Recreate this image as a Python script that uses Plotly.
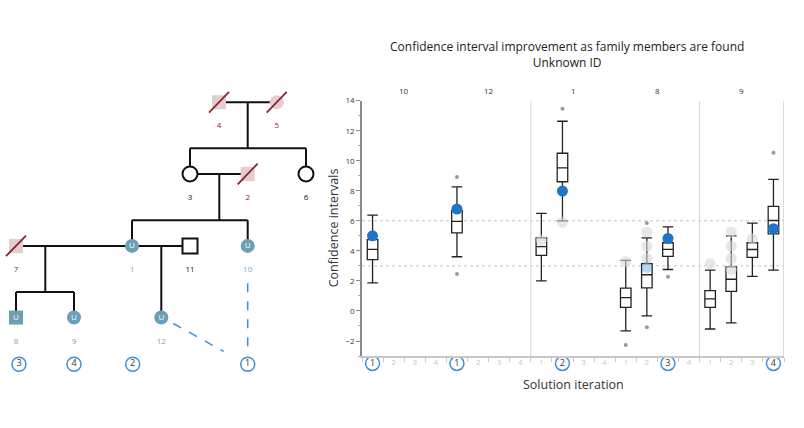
import plotly.graph_objects as go

# ---------------- Box plot data ----------------
title_lines = ["Confidence interval improvement as family members are found", "Unknown ID"]
group_labels = ["10", "12", "1", "8", "9"]
iter_labels = ["1", "2", "3", "4"]

box_pos = [0, 4, 8, 9, 12, 13, 14, 16, 17, 18, 19]
box_low = [1.87, 3.61, 2.0, 6.0, -1.33, -0.33, 2.76, -1.2, -0.8, 2.3, 2.72]
box_q1 = [3.42, 5.2, 3.7, 8.6, 0.24, 1.54, 3.63, 0.24, 1.3, 3.57, 5.13]
box_med = [4.1, 5.96, 4.28, 9.52, 0.89, 2.41, 4.1, 0.8, 2.11, 4.09, 6.02]
box_q3 = [4.75, 6.67, 4.86, 10.5, 1.52, 3.15, 4.54, 1.35, 2.93, 4.54, 6.96]
box_high = [6.38, 8.26, 6.5, 12.63, 3.37, 4.87, 5.6, 2.72, 5.0, 5.85, 8.76]

outlier_pos = [4, 4, 9, 12, 13, 13, 14, 19]
outlier_val = [8.91, 2.46, 13.46, -2.26, 5.85, -1.09, 2.28, 10.54]

found_pos = [0, 4, 9, 14, 19]
found_val = [5.0, 6.78, 7.98, 4.83, 5.48]
found_label = ["1", "1", "2", "3", "4"]

prev_pos = [8, 9, 12, 13, 13, 13, 16, 17, 17, 17, 17, 18]
prev_val = [4.7, 5.9, 3.3, 5.26, 4.3, 3.5, 3.15, 5.26, 4.3, 3.5, 2.75, 4.8]
faint_pos = [13]
faint_val = [2.9]

threshold_vals = [6, 3]
y_tick_vals = [-2, 0, 2, 4, 6, 8, 10, 12, 14]

# ---------------- Pedigree data ----------------
ped_id = ["1", "2", "3", "4", "5", "6", "7", "8", "9", "10", "11", "12"]
ped_sex = ["F", "M", "F", "M", "F", "F", "M", "M", "F", "F", "M", "F"]
ped_status = ["unknown", "deceased", "living", "deceased", "deceased", "living",
              "deceased", "unknown", "unknown", "unknown", "living", "unknown"]
couples = [("4", "5"), ("3", "2"), ("7", "1"), ("1", "11")]
children = [["3", "6"], ["1", "10"], ["8", "9"], ["12"]]
found_people = ["10", "12", "1", "8", "9"]
found_order = ["1", "1", "2", "3", "4"]

# pedigree drawing layout (pixel positions on the left panel)
ped_xy = {"1": (132, 243.3), "2": (247.7, 170.3), "3": (190, 170.3), "4": (219, 97.7),
          "5": (276.7, 97.7), "6": (306, 170.3), "7": (16, 243.3), "8": (16, 316),
          "9": (74, 316), "10": (247.7, 243.3), "11": (190, 243.3), "12": (161.3, 316)}
descent_x = [247.7, 219.3, 45.3, 161.3]
order_circle_x = {"1": 247.7, "2": 132.7, "3": 19, "4": 74}
order_circle_y = 363.3

TEAL = "#6a9fb5"
TEAL_TXT = "#72a8bf"
PINK = "#e4cdcd"
DRED = "#8b2332"
BLUE = "#1f74c8"
CBLUE = "#3d8fd8"
FONT = "Open Sans"

fig = go.Figure()

# ---------------- Pedigree ----------------
PX, PY = "x2", "y2"
line_x, line_y = [], []
for (a, b), kids, dx in zip(couples, children, descent_x):
    ax_, ay_ = ped_xy[a]
    bx_, by_ = ped_xy[b]
    line_x += [ax_, bx_, None]
    line_y += [ay_, by_, None]
    ky = ped_xy[kids[0]][1]
    if len(kids) == 1:
        line_x += [dx, dx, None]
        line_y += [ay_, ky, None]
    else:
        sy = ky - 26
        line_x += [dx, dx, None]
        line_y += [ay_, sy, None]
        xs = [ped_xy[k][0] for k in kids]
        line_x += [min(xs), max(xs), None]
        line_y += [sy, sy, None]
        for k in kids:
            line_x += [ped_xy[k][0], ped_xy[k][0], None]
            line_y += [sy, ped_xy[k][1], None]
fig.add_trace(go.Scatter(x=line_x, y=line_y, xaxis=PX, yaxis=PY, mode="lines",
                         line=dict(color="#111", width=2), hoverinfo="skip"))

# dashed links from found people to the order circle
dash_x, dash_y = [], []
for p, o in zip(found_people, found_order):
    if o == "1":
        px_, py_ = ped_xy[p]
        cx = order_circle_x[o]
        if abs(px_ - cx) < 1:
            dash_x += [px_, cx, None]
            dash_y += [py_ + 38, order_circle_y - 15, None]
        else:
            dash_x += [px_ + 12, cx - 24, None]
            dash_y += [py_ + 6, order_circle_y - 13, None]
fig.add_trace(go.Scatter(x=dash_x, y=dash_y, xaxis=PX, yaxis=PY, mode="lines",
                         line=dict(color=CBLUE, width=1.5, dash="dash"), hoverinfo="skip"))

# symbols
for pid, sex, st in zip(ped_id, ped_sex, ped_status):
    x0, y0 = ped_xy[pid]
    sym = "square" if sex == "M" else "circle"
    if st == "unknown":
        mk = dict(symbol=sym, size=14, color=TEAL, line=dict(width=0))
    elif st == "deceased":
        mk = dict(symbol=sym, size=14, color=PINK, line=dict(width=0))
    else:
        mk = dict(symbol=sym, size=15, color="white", line=dict(color="#111", width=2))
    fig.add_trace(go.Scatter(x=[x0], y=[y0], xaxis=PX, yaxis=PY, mode="markers",
                             marker=mk, hoverinfo="skip"))
    if st == "unknown":
        fig.add_trace(go.Scatter(x=[x0], y=[y0], xaxis=PX, yaxis=PY, mode="text",
                                 text=["U"], textfont=dict(color="white", size=8, family=FONT),
                                 hoverinfo="skip"))
    if st == "deceased":
        fig.add_trace(go.Scatter(x=[x0 - 10, x0 + 10], y=[y0 + 10.5, y0 - 10.5], xaxis=PX, yaxis=PY,
                                 mode="lines", line=dict(color=DRED, width=1.8), hoverinfo="skip"))
    lab_col = TEAL_TXT if st == "unknown" else (DRED if st == "deceased" else "#111")
    fig.add_trace(go.Scatter(x=[x0], y=[y0 + 24.5], xaxis=PX, yaxis=PY, mode="text",
                             text=[pid], textfont=dict(color=lab_col, size=8, family=FONT),
                             hoverinfo="skip"))

# order circles under the pedigree
oc = sorted(order_circle_x.keys())
fig.add_trace(go.Scatter(x=[order_circle_x[k] for k in oc], y=[order_circle_y] * len(oc),
                         xaxis=PX, yaxis=PY, mode="markers+text", text=oc,
                         textposition="middle center",
                         textfont=dict(color="#333", size=9, family=FONT),
                         marker=dict(symbol="circle", size=14, color="white",
                                     line=dict(color=CBLUE, width=1.5)),
                         hoverinfo="skip"))

# ---------------- Box plot ----------------
fig.add_trace(go.Box(x=box_pos, q1=box_q1, median=box_med, q3=box_q3,
                     lowerfence=box_low, upperfence=box_high, boxpoints=False,
                     width=0.5, whiskerwidth=1, fillcolor="white",
                     line=dict(color="#222", width=1.3), hoverinfo="skip"))
fig.add_trace(go.Scatter(x=outlier_pos, y=outlier_val, mode="markers",
                         marker=dict(color="#9a9a9a", size=4), hoverinfo="skip"))
fig.add_trace(go.Scatter(x=prev_pos, y=prev_val, mode="markers",
                         marker=dict(color="rgba(215,215,215,0.6)", size=11), hoverinfo="skip"))
fig.add_trace(go.Scatter(x=faint_pos, y=faint_val, mode="markers",
                         marker=dict(color="rgba(31,116,200,0.3)", size=11), hoverinfo="skip"))
fig.add_trace(go.Scatter(x=found_pos, y=found_val, mode="markers",
                         marker=dict(color=BLUE, size=11), hoverinfo="skip"))

# iteration labels under the axis (drawn on a strip axis y3 sharing x)
n_pos = len(group_labels) * len(iter_labels)
all_pos = list(range(n_pos))
lab_y = 362.5
plain_pos = [p for p in all_pos if p not in found_pos]
fig.add_trace(go.Scatter(x=plain_pos, y=[lab_y] * len(plain_pos), mode="text", yaxis="y3",
                         text=[iter_labels[p % 4] for p in plain_pos],
                         textfont=dict(color="#c8c8c8", size=8, family=FONT), hoverinfo="skip"))
fig.add_trace(go.Scatter(x=found_pos, y=[lab_y] * len(found_pos), mode="markers+text",
                         yaxis="y3", text=found_label, textposition="middle center",
                         textfont=dict(color="#333", size=9, family=FONT),
                         marker=dict(symbol="circle", size=14, color="white",
                                     line=dict(color=CBLUE, width=1.5)),
                         hoverinfo="skip"))

shapes = []
for v in threshold_vals:
    shapes.append(dict(type="line", xref="x", yref="y", x0=-0.5, x1=n_pos - 0.5, y0=v, y1=v,
                       line=dict(color="#c4c4c4", width=1, dash="dot"), layer="below"))
for sep in [7.5, 15.5]:
    shapes.append(dict(type="line", xref="x", yref="y", x0=sep, x1=sep, y0=-3, y1=14,
                       line=dict(color="#d6d6d6", width=1), layer="below"))
shapes.append(dict(type="line", xref="x", yref="y", x0=n_pos - 0.5, x1=n_pos - 0.5, y0=-3, y1=14,
                   line=dict(color="#d0d0d0", width=1.5), layer="below"))

annotations = []
for g, gl in enumerate(group_labels):
    annotations.append(dict(x=g * 4 + 1.5, xref="x", y=1 - 86 / 428, yref="paper", text=gl,
                            xanchor="center", yanchor="middle",
                            showarrow=False, font=dict(size=8, color="#333", family=FONT)))
annotations.append(dict(x=0.7052, y=1 - 49 / 428, xref="paper", yref="paper",
                        text="<br>".join(title_lines), showarrow=False,
                        xanchor="center", yanchor="middle",
                        font=dict(size=12, color="#222", family=FONT)))
annotations.append(dict(x=333 / 804, y=1 - 225.5 / 428, xref="paper", yref="paper",
                        text="Confidence intervals", textangle=-90, showarrow=False,
                        xanchor="center", yanchor="middle",
                        font=dict(size=12.5, color="#333", family=FONT)))
annotations.append(dict(x=573 / 804, y=1 - 384 / 428, xref="paper", yref="paper",
                        text="Solution iteration", showarrow=False,
                        xanchor="center", yanchor="middle",
                        font=dict(size=12.5, color="#333", family=FONT)))

minor_x = [p + 0.5 for p in range(-1, n_pos)]
fig.update_layout(
    width=804, height=428, margin=dict(l=0, r=0, t=0, b=0),
    paper_bgcolor="white", plot_bgcolor="rgba(0,0,0,0)", showlegend=False,
    font=dict(family=FONT),
    boxmode="overlay",
    shapes=shapes, annotations=annotations,
    xaxis=dict(domain=[362 / 804, 784 / 804], range=[-0.5, n_pos - 0.5], showgrid=False,
               zeroline=False, showline=True, linecolor="#c8c8c8", linewidth=2,
               ticks="outside", tickvals=minor_x, ticklen=4, tickcolor="#c8c8c8",
               showticklabels=False, fixedrange=True, anchor="y"),
    yaxis=dict(domain=[1 - 355 / 428, 1 - 96 / 428], range=[-3, 14], showgrid=False,
               zeroline=False, showline=True, linecolor="#8a8a8a", linewidth=1.5,
               tickvals=y_tick_vals, ticks="outside", ticklen=4, tickcolor="#8a8a8a",
               tickfont=dict(size=8, color="#333"),
               minor=dict(tickvals=[-3, -1, 1, 3, 5, 7, 9, 11, 13], ticks="outside",
                          ticklen=2, tickcolor="#aaa"),
               fixedrange=True),
    yaxis3=dict(domain=[0, 1 - 357 / 428], range=[428, 357], anchor="x", visible=False,
                fixedrange=True),
    xaxis2=dict(domain=[0, 0.42], range=[0, 0.42 * 804], visible=False, fixedrange=True),
    yaxis2=dict(domain=[0, 1], range=[428, 0], visible=False, fixedrange=True),
)

fig.write_html("out.html", config={"displayModeBar": False},
               post_script="document.body.style.margin='0';document.body.style.overflow='hidden';")
